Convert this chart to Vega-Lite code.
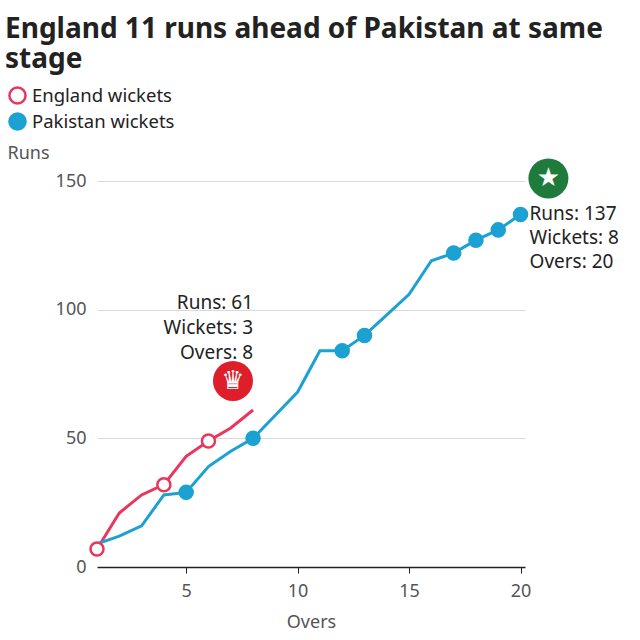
{
  "$schema": "https://vega.github.io/schema/vega-lite/v6.json",
  "width": 428,
  "height": 386,
  "autosize": {"type": "none"},
  "padding": {"left": 97, "top": 181, "right": 115, "bottom": 73},
  "background": "white",
  "title": {
    "text": ["England 11 runs ahead of Pakistan at same", "stage"],
    "anchor": "start",
    "frame": "group",
    "dx": -92,
    "dy": -2,
    "font": "Noto Sans",
    "fontSize": 28,
    "fontWeight": "bold",
    "color": "#222222",
    "lineHeight": 30,
    "offset": 10
  },
  "config": {
    "view": {"stroke": null},
    "font": "Noto Sans"
  },
  "datasets": {
    "runs": [
      {"team": "England", "over": 1, "runs": 7, "wicket": 1},
      {"team": "England", "over": 2, "runs": 21, "wicket": 0},
      {"team": "England", "over": 3, "runs": 28, "wicket": 0},
      {"team": "England", "over": 4, "runs": 32, "wicket": 1},
      {"team": "England", "over": 5, "runs": 43, "wicket": 0},
      {"team": "England", "over": 6, "runs": 49, "wicket": 1},
      {"team": "England", "over": 7, "runs": 54, "wicket": 0},
      {"team": "England", "over": 8, "runs": 61, "wicket": 0},
      {"team": "Pakistan", "over": 1, "runs": 9, "wicket": 0},
      {"team": "Pakistan", "over": 2, "runs": 12, "wicket": 0},
      {"team": "Pakistan", "over": 3, "runs": 16, "wicket": 0},
      {"team": "Pakistan", "over": 4, "runs": 28, "wicket": 0},
      {"team": "Pakistan", "over": 5, "runs": 29, "wicket": 1},
      {"team": "Pakistan", "over": 6, "runs": 39, "wicket": 0},
      {"team": "Pakistan", "over": 7, "runs": 45, "wicket": 0},
      {"team": "Pakistan", "over": 8, "runs": 50, "wicket": 1},
      {"team": "Pakistan", "over": 9, "runs": 59, "wicket": 0},
      {"team": "Pakistan", "over": 10, "runs": 68, "wicket": 0},
      {"team": "Pakistan", "over": 11, "runs": 84, "wicket": 0},
      {"team": "Pakistan", "over": 12, "runs": 84, "wicket": 1},
      {"team": "Pakistan", "over": 13, "runs": 90, "wicket": 1},
      {"team": "Pakistan", "over": 14, "runs": 98, "wicket": 0},
      {"team": "Pakistan", "over": 15, "runs": 106, "wicket": 0},
      {"team": "Pakistan", "over": 16, "runs": 119, "wicket": 0},
      {"team": "Pakistan", "over": 17, "runs": 122, "wicket": 1},
      {"team": "Pakistan", "over": 18, "runs": 127, "wicket": 1},
      {"team": "Pakistan", "over": 19, "runs": 131, "wicket": 1},
      {"team": "Pakistan", "over": 20, "runs": 137, "wicket": 1}
    ],
    "notes": [
      {"team": "England", "over": 8, "runs": 61, "label": "Runs: 61|Wickets: 3|Overs: 8"},
      {"team": "Pakistan", "over": 20, "runs": 137, "label": "Runs: 137|Wickets: 8|Overs: 20"}
    ],
    "logos": [
      {"team": "England", "over": 7.1, "runs": 72.3, "sym": "♛"},
      {"team": "Pakistan", "over": 21.25, "runs": 151, "sym": "★"}
    ]
  },
  "layer": [
    {
      "data": {"name": "runs"},
      "mark": {"type": "line", "strokeWidth": 3, "strokeJoin": "miter"},
      "encoding": {
        "x": {
          "field": "over", "type": "quantitative",
          "scale": {"domain": [1, 20.2], "nice": false, "zero": false},
          "axis": {
            "title": "Overs",
            "values": [5, 10, 15, 20],
            "grid": false,
            "domainColor": "#222222",
            "domainWidth": 1.5,
            "tickColor": "#222222",
            "tickSize": 6,
            "tickWidth": 1,
            "labelFont": "Noto Sans",
            "labelFontSize": 18,
            "labelColor": "#555555",
            "labelPadding": 9,
            "titleFont": "Noto Sans",
            "titleFontSize": 18,
            "titleFontWeight": "normal",
            "titleColor": "#555555",
            "titlePadding": 13
          }
        },
        "y": {
          "field": "runs", "type": "quantitative",
          "scale": {"domain": [0, 150], "nice": false},
          "axis": {
            "title": "Runs",
            "values": [0, 50, 100, 150],
            "domain": false,
            "ticks": false,
            "gridColor": "#d9d9d9",
            "gridWidth": 1,
            "labelFont": "Noto Sans",
            "labelFontSize": 18,
            "labelColor": "#555555",
            "labelPadding": 11,
            "titleFont": "Noto Sans",
            "titleFontSize": 18,
            "titleFontWeight": "normal",
            "titleColor": "#555555",
            "titleAngle": 0,
            "titleAlign": "left",
            "titleBaseline": "alphabetic",
            "titleX": -90,
            "titleY": -23
          }
        },
        "color": {
          "field": "team", "type": "nominal",
          "scale": {"domain": ["Pakistan", "England"], "range": ["#1ba1d2", "#e8375c"]},
          "legend": null
        },
        "detail": {"field": "team"}
      }
    },
    {
      "data": {"name": "runs"},
      "transform": [{"filter": "datum.wicket == 1"}],
      "mark": {"type": "point", "shape": "circle", "filled": true, "strokeWidth": 2.5, "opacity": 1},
      "encoding": {
        "x": {"field": "over", "type": "quantitative"},
        "y": {"field": "runs", "type": "quantitative"},
        "stroke": {
          "field": "team", "type": "nominal",
          "scale": {"domain": ["England", "Pakistan"], "range": ["#e8375c", "#1ba1d2"]},
          "legend": {
            "title": null,
            "orient": "none",
            "legendX": -89,
            "legendY": -95,
            "labelExpr": "datum.label + ' wickets'",
            "labelFont": "Noto Sans",
            "labelFontSize": 18.5,
            "labelColor": "#222222",
            "labelOffset": 5,
            "symbolSize": 260,
            "symbolStrokeWidth": 2.5,
            "rowPadding": -1
          }
        },
        "fill": {
          "field": "team", "type": "nominal",
          "scale": {"domain": ["England", "Pakistan"], "range": ["#ffffff", "#1ba1d2"]},
          "legend": {
            "title": null,
            "orient": "none",
            "legendX": -89,
            "legendY": -95,
            "labelExpr": "datum.label + ' wickets'",
            "labelFont": "Noto Sans",
            "labelFontSize": 18.5,
            "labelColor": "#222222",
            "labelOffset": 5,
            "symbolSize": 260,
            "symbolStrokeWidth": 2.5,
            "rowPadding": -1
          }
        },
        "size": {"value": 170}
      }
    },
    {
      "data": {"name": "notes"},
      "transform": [{"filter": "datum.team == 'England'"}],
      "mark": {"type": "text", "align": "right", "baseline": "alphabetic", "lineBreak": "|", "lineHeight": 25, "fontSize": 19, "font": "Noto Sans", "color": "#222222", "dy": -101, "dx": 0},
      "encoding": {
        "x": {"field": "over", "type": "quantitative"},
        "y": {"field": "runs", "type": "quantitative"},
        "text": {"field": "label"}
      }
    },
    {
      "data": {"name": "notes"},
      "transform": [{"filter": "datum.team == 'Pakistan'"}],
      "mark": {"type": "text", "align": "left", "baseline": "alphabetic", "lineBreak": "|", "lineHeight": 24, "fontSize": 19, "font": "Noto Sans", "color": "#222222", "dy": 6, "dx": 9},
      "encoding": {
        "x": {"field": "over", "type": "quantitative"},
        "y": {"field": "runs", "type": "quantitative"},
        "text": {"field": "label"}
      }
    },
    {
      "data": {"name": "logos"},
      "transform": [{"filter": "datum.team == 'England'"}],
      "mark": {"type": "point", "shape": "circle", "filled": true, "size": 1600, "opacity": 1, "color": "#de1f2b"},
      "encoding": {
        "x": {"field": "over", "type": "quantitative"},
        "y": {"field": "runs", "type": "quantitative"}
      }
    },
    {
      "data": {"name": "logos"},
      "transform": [{"filter": "datum.team == 'Pakistan'"}],
      "mark": {"type": "point", "shape": "circle", "filled": true, "size": 1600, "opacity": 1, "color": "#1e7b3c"},
      "encoding": {
        "x": {"field": "over", "type": "quantitative"},
        "y": {"field": "runs", "type": "quantitative"}
      }
    },
    {
      "data": {"name": "logos"},
      "mark": {"type": "text", "align": "center", "baseline": "middle", "color": "white", "font": "DejaVu Sans", "fontSize": 26},
      "encoding": {
        "x": {"field": "over", "type": "quantitative"},
        "y": {"field": "runs", "type": "quantitative"},
        "text": {"field": "sym"}
      }
    }
  ]
}
